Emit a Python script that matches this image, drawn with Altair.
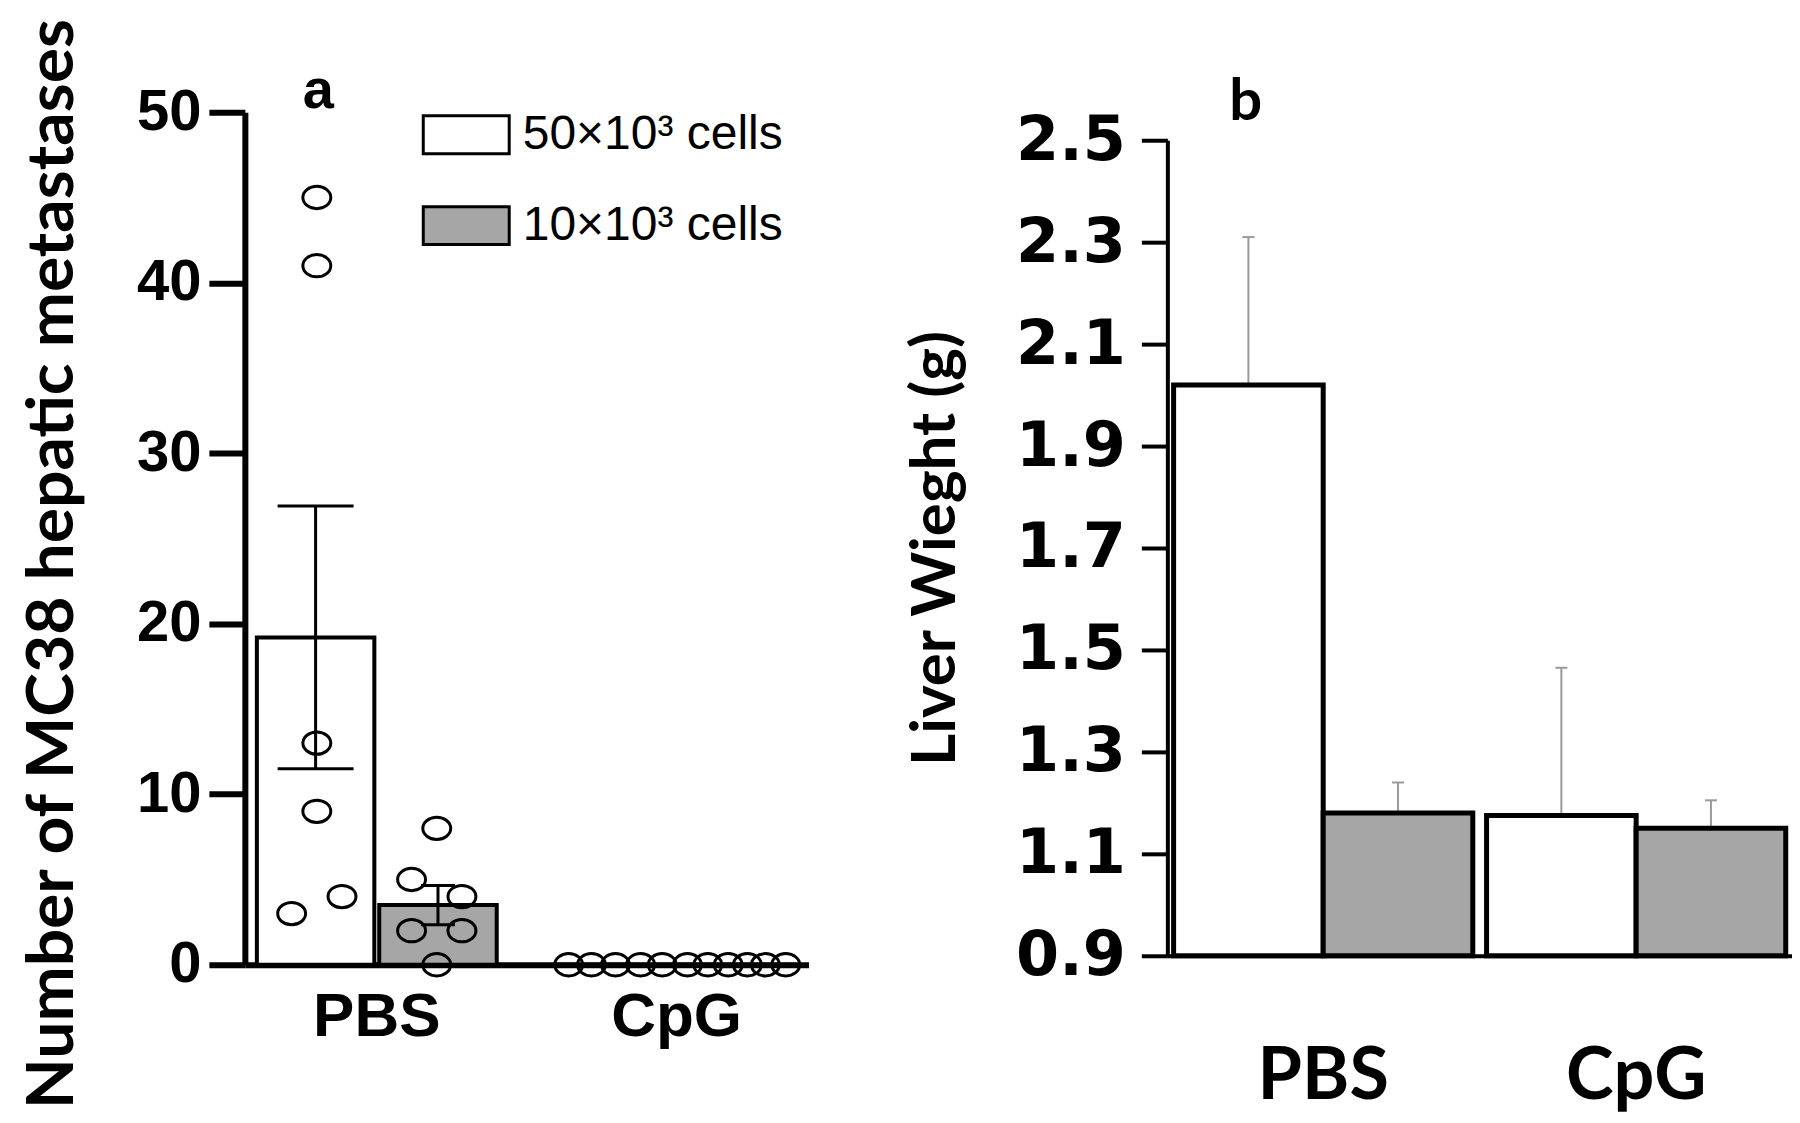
import altair as alt
import pandas as pd

groups = ["PBS", "CpG"]
cells = ["50×10³ cells", "10×10³ cells"]
cell_colors = ["#ffffff", "#a6a6a6"]

# ---------- panel a: hepatic metastases ----------
a_bar_group = ["PBS", "PBS", "CpG", "CpG"]
a_bar_cell = [cells[0], cells[1], cells[0], cells[1]]
a_bar_mean = [19.2, 3.5, 0.0, 0.0]
a_bar_sem = [7.7, 1.15, 0.0, 0.0]

a_pt_group = ["PBS"] * 12 + ["CpG"] * 11
a_pt_cell = [cells[0]] * 6 + [cells[1]] * 6 + [cells[0]] * 5 + [cells[1]] * 6
a_pt_value = [45, 41, 13, 9, 4, 3, 8, 5, 4, 2, 2, 0,
              0, 0, 0, 0, 0, 0, 0, 0, 0, 0, 0]
a_pt_dodge = [-0.5, -0.5, -0.5, -0.5, -0.29, -0.71,
              0.5, 0.29, 0.71, 0.29, 0.71, 0.5,
              -0.90, -0.71, -0.51, -0.30, -0.12, 0.09, 0.26, 0.43, 0.59, 0.74, 0.91]

# ---------- panel b: liver weight ----------
b_group = ["PBS", "PBS", "CpG", "CpG"]
b_cell = [cells[0], cells[1], cells[0], cells[1]]
b_mean = [2.02, 1.18, 1.175, 1.15]
b_err = [0.29, 0.06, 0.29, 0.055]
b_ticks = [0.9, 1.1, 1.3, 1.5, 1.7, 1.9, 2.1, 2.3, 2.5]

a_bars = pd.DataFrame({"group": a_bar_group, "cell": a_bar_cell,
                       "mean": a_bar_mean, "sem": a_bar_sem})
a_bars["lo"] = a_bars["mean"] - a_bars["sem"]
a_bars["hi"] = a_bars["mean"] + a_bars["sem"]
a_pts = pd.DataFrame({"group": a_pt_group, "cell": a_pt_cell,
                      "value": a_pt_value, "dodge": a_pt_dodge})
b_df = pd.DataFrame({"group": b_group, "cell": b_cell, "mean": b_mean, "err": b_err})
b_df["hi"] = b_df["mean"] + b_df["err"]

A_W, A_H = 564, 853
B_W, B_H, B_TOP = 625, 844, 28

xa = alt.X("group:N", sort=groups,
           scale=alt.Scale(domain=groups, paddingInner=0.2, paddingOuter=0.04),
           axis=alt.Axis(title=None, labelAngle=0, ticks=False, domainWidth=6,
                         domainColor="black", labelFont="Liberation Sans",
                         labelFontWeight="bold", labelFontSize=62, labelColor="black",
                         labelPadding=22))
ya_axis = alt.Axis(values=[0, 10, 20, 30, 40, 50], tickSize=36, tickWidth=6,
                   domainWidth=6, domainColor="black", tickColor="black",
                   labelFont="Liberation Sans", labelFontWeight="bold",
                   labelFontSize=58, labelColor="black", labelPadding=8,
                   title="Number of MC38 hepatic metastases", titleFont="Lato",
                   titleFontSize=66, titleFontWeight="bold", titleColor="black",
                   titlePadding=50, titleY=A_H / 2 + 25, grid=False)
ya_scale = alt.Scale(domain=[0, 50], nice=False)
xoff_a = alt.XOffset("cell:N", sort=cells,
                     scale=alt.Scale(domain=cells, paddingInner=0.04, paddingOuter=0))

bars_a = alt.Chart(a_bars).mark_bar(stroke="black", strokeWidth=4).encode(
    x=xa,
    xOffset=xoff_a,
    y=alt.Y("mean:Q", scale=ya_scale, axis=ya_axis),
    color=alt.Color("cell:N", sort=cells,
                    scale=alt.Scale(domain=cells, range=cell_colors),
                    legend=alt.Legend(title=None, orient="none", legendX=177, legendY=-22,
                                      symbolType="M-1,-0.44H1V0.44H-1Z",
                                      symbolSize=7396, symbolStrokeColor="black",
                                      symbolStrokeWidth=3, labelFont="Liberation Sans",
                                      labelFontSize=48, labelColor="black",
                                      labelOffset=12, rowPadding=21, padding=0,
                                      labelLimit=400)),
)

err_base = alt.Chart(a_bars).transform_filter("datum.sem > 0")
err_rule_a = err_base.mark_rule(color="black", strokeWidth=3).encode(
    x=xa, xOffset=xoff_a, y=alt.Y("lo:Q", scale=ya_scale), y2="hi:Q")
cap_hi_a = err_base.transform_filter(alt.datum.cell == cells[0]).mark_tick(
    color="black", thickness=3, size=76, opacity=1).encode(
    x=xa, xOffset=xoff_a, y=alt.Y("hi:Q", scale=ya_scale))
cap_lo_a = err_base.transform_filter(alt.datum.cell == cells[0]).mark_tick(
    color="black", thickness=3, size=76, opacity=1).encode(
    x=xa, xOffset=xoff_a, y=alt.Y("lo:Q", scale=ya_scale))
cap_hi_a2 = err_base.transform_filter(alt.datum.cell == cells[1]).mark_tick(
    color="black", thickness=3, size=34, opacity=1).encode(
    x=xa, xOffset=xoff_a, y=alt.Y("hi:Q", scale=ya_scale))
cap_lo_a2 = err_base.transform_filter(alt.datum.cell == cells[1]).mark_tick(
    color="black", thickness=3, size=34, opacity=1).encode(
    x=xa, xOffset=xoff_a, y=alt.Y("lo:Q", scale=ya_scale))

ellipse = "M-1,0A1,0.8,0,1,1,1,0A1,0.8,0,1,1,-1,0Z"
pts_a = alt.Chart(a_pts).mark_point(shape=ellipse, size=780, filled=False,
                                    color="black", strokeWidth=3, opacity=1).encode(
    x=xa,
    xOffset=alt.XOffset("dodge:Q", scale=alt.Scale(domain=[-1, 1])),
    y=alt.Y("value:Q", scale=ya_scale),
)

panel_a = alt.layer(bars_a, err_rule_a, cap_hi_a, cap_lo_a, cap_hi_a2, cap_lo_a2, pts_a
                    ).resolve_scale(xOffset="independent").properties(
    width=A_W, height=A_H,
    title=alt.TitleParams("a", anchor="start", frame="group", dx=58, dy=103, offset=0,
                          font="Liberation Sans", fontSize=56, fontWeight="bold",
                          color="black"))

# ---------- panel b ----------
xb = alt.X("group:N", sort=groups,
           scale=alt.Scale(domain=groups, paddingInner=0.044, paddingOuter=0.02),
           axis=alt.Axis(title=None, labelAngle=0, ticks=False, domainWidth=4,
                         domainColor="black", labelFont="Lato", labelFontWeight="bold",
                         labelFontSize=72, labelColor="black", labelPadding=86))
yb_scale = alt.Scale(domain=[0.9, 2.5], nice=False, zero=False, range=[B_H, B_TOP])
yb_axis = alt.Axis(values=b_ticks, format=".1f", tickSize=26, tickWidth=4,
                   domainWidth=4, domainColor="black", tickColor="black",
                   labelFont="DejaVu Sans", labelFontWeight="bold", labelFontSize=62,
                   labelColor="black", labelPadding=16,
                   title="Liver Wieght (g)", titleFont="Lato", titleFontSize=62,
                   titleFontWeight="bold", titleColor="black", titlePadding=48,
                   titleY=(B_H + B_TOP) / 2, grid=False)
xoff_b = alt.XOffset("cell:N", sort=cells,
                     scale=alt.Scale(domain=cells, paddingInner=0.0, paddingOuter=0))

bars_b = alt.Chart(b_df).mark_bar(stroke="black", strokeWidth=5).encode(
    x=xb, xOffset=xoff_b,
    y=alt.Y("mean:Q", scale=yb_scale, axis=yb_axis),
    y2=alt.datum(0.9),
    color=alt.Color("cell:N", sort=cells,
                    scale=alt.Scale(domain=cells, range=cell_colors), legend=None),
)
err_b = alt.Chart(b_df).mark_rule(color="#9a9a9a", strokeWidth=2).encode(
    x=xb, xOffset=xoff_b, y=alt.Y("mean:Q", scale=yb_scale), y2="hi:Q")
cap_b = alt.Chart(b_df).mark_tick(color="#9a9a9a", thickness=2, size=12, opacity=1).encode(
    x=xb, xOffset=xoff_b, y=alt.Y("hi:Q", scale=yb_scale))

panel_b = alt.layer(err_b, cap_b, bars_b).properties(
    width=B_W, height=B_H,
    title=alt.TitleParams("b", anchor="start", frame="group", dx=62, dy=23, offset=0,
                          font="Lato", fontSize=58, fontWeight="bold", color="black"))

chart = alt.hconcat(panel_a, panel_b, spacing=96).resolve_scale(
    color="independent", x="independent", y="independent"
).configure(
    padding={"left": 11, "top": 8, "right": 0, "bottom": 0},
    background="white",
    view=alt.ViewConfig(stroke=None),
)

chart.save("out.html", embed_options={"renderer": "svg", "actions": False})
